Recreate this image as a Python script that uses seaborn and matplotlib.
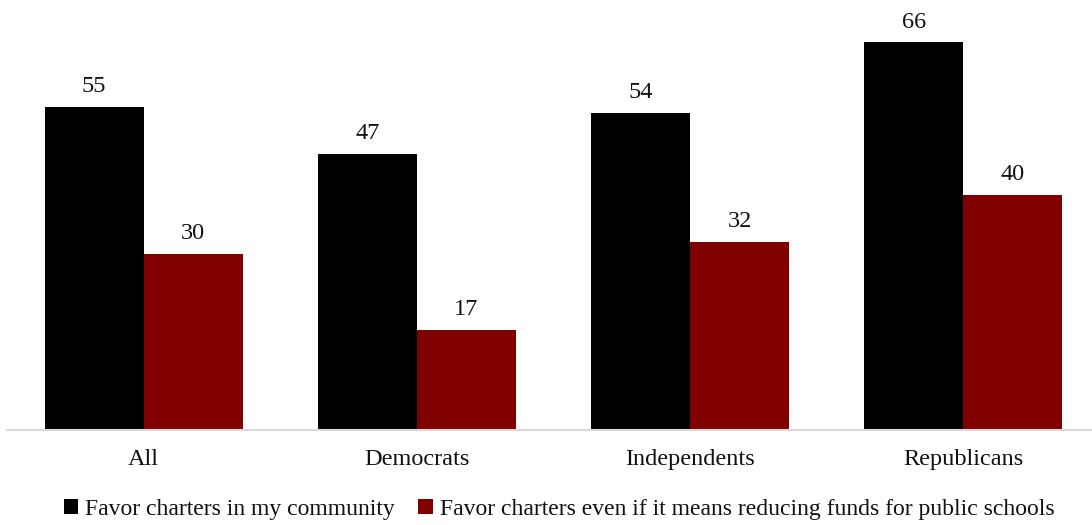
import matplotlib
matplotlib.use("Agg")
import matplotlib.pyplot as plt
import seaborn as sns
import pandas as pd
from matplotlib.patches import Patch

groups = ["All", "Democrats", "Independents", "Republicans"]
series_names = [
    "Favor charters in my community",
    "Favor charters even if it means reducing funds for public schools",
]
favor_community = [55, 47, 54, 66]
favor_reduce_funds = [30, 17, 32, 40]
colors = ["#000000", "#800000"]

df = pd.DataFrame({
    "group": groups * 2,
    "series": [series_names[0]] * 4 + [series_names[1]] * 4,
    "value": favor_community + favor_reduce_funds,
})

sns.set_theme(style="white")
plt.rcParams["font.family"] = ["Liberation Serif", "DejaVu Serif"]

fig = plt.figure(figsize=(10.92, 5.25), dpi=100)
ax = fig.add_axes([7 / 1092, 95 / 525, 1093 / 1092, 420 / 525])

sns.barplot(data=df, x="group", y="value", hue="series", order=groups,
            hue_order=series_names, palette=colors, width=0.725,
            saturation=1, linewidth=0, ax=ax, legend=False)

for cont in ax.containers:
    ax.bar_label(cont, labels=[f"{v:.0f}" for v in cont.datavalues],
                 padding=7, fontsize=17.5, color="#111111")

ax.set_xlim(-0.5, 3.5)
ax.set_ylim(0, 71.5)
ax.set_xlabel("")
ax.set_ylabel("")
ax.set_yticks([])
ax.tick_params(axis="x", length=0, pad=14, labelsize=17.5, labelcolor="#111111")
for side in ["top", "right", "left"]:
    ax.spines[side].set_visible(False)
ax.spines["bottom"].set_color("#d9d9d9")
ax.spines["bottom"].set_linewidth(1.5)

handles = [Patch(facecolor=c, edgecolor="none") for c in colors]
fig.legend(handles, series_names, loc="center", bbox_to_anchor=(0.512, 0.029),
           ncol=2, frameon=False, fontsize=17, handlelength=0.6,
           handleheight=0.6, handletextpad=0.3, columnspacing=1.0,
           labelcolor="#111111")

fig.savefig("out.png", dpi=100)
